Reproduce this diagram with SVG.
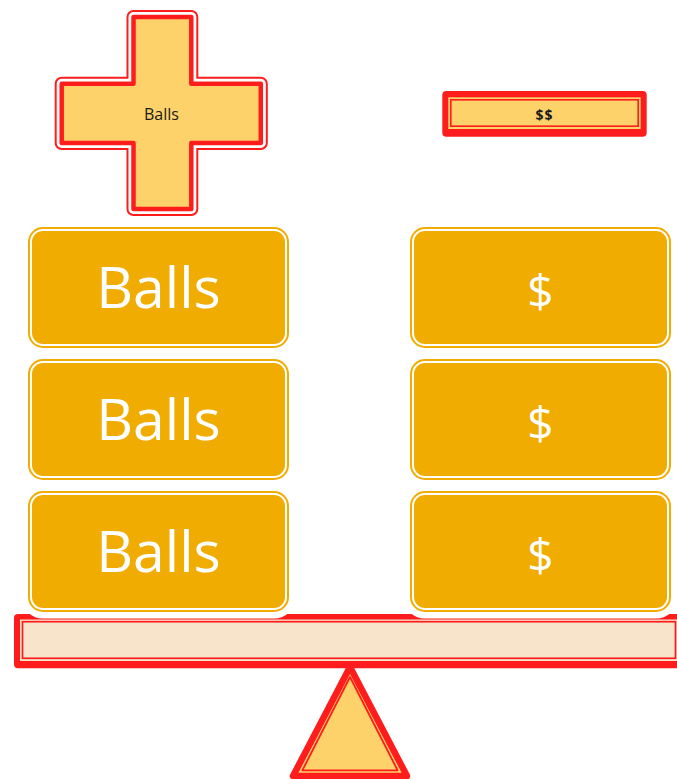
<svg xmlns="http://www.w3.org/2000/svg" width="677" height="779" viewBox="0 0 677 779">
<style>
.big{font-family:"Open Sans","Noto Sans","Liberation Sans",sans-serif;fill:#fff;text-anchor:middle}
.halo{fill:none;stroke:#fff;stroke-width:13}
.bx{fill:#F0AC00}
.bxin{fill:none;stroke:#fff;stroke-width:2}
.red{fill:#FF1C1C}
</style>
<defs>
<path id="plus" d="M133.5,17 H191.3 V83.8 H260.8 V143 H191.3 V209 H133.5 V143 H61.7 V83.8 H133.5 Z"/>
<g id="box">
<rect class="halo" x="0" y="0" width="261" height="121" rx="15"/>
<rect class="bx" x="0" y="0" width="261" height="121" rx="15"/>
<rect class="bxin" x="3" y="3" width="255" height="115" rx="12"/>
</g>
</defs>
<g id="node-plus">
<use href="#plus" fill="none" stroke="#FF1C1C" stroke-width="14" stroke-linejoin="round"/>
<use href="#plus" fill="none" stroke="#fff" stroke-width="10" stroke-linejoin="round"/>
<use href="#plus" fill="#FDD26B" stroke="#FF1C1C" stroke-width="4.5" stroke-linejoin="round"/>
<text x="161.5" y="120" font-family="'Open Sans','Noto Sans',sans-serif" font-size="16" fill="#1a1a1a" text-anchor="middle">Balls</text>
</g>
<g id="node-bar">
<rect class="red" x="442.3" y="91" width="204.4" height="45.7" rx="4"/>
<rect x="448.3" y="97.3" width="192.4" height="31.7" fill="#FDD26B"/>
<rect x="450.8" y="99.8" width="187.4" height="26.4" fill="#FDD26B" stroke="#FF1C1C" stroke-width="1.6"/>
<text x="544.5" y="120" font-family="'Open Sans','Noto Sans',sans-serif" font-size="14" font-weight="bold" fill="#1a1a1a" text-anchor="middle" letter-spacing="1">$$</text>
</g>
<g id="node-beam">
<rect class="red" x="14" y="614" width="670" height="54.3" rx="4"/>
<rect x="20" y="619.5" width="658" height="41.5" fill="#F8E3CB"/>
<rect x="22.5" y="621.7" width="653" height="36.6" fill="#F8E3CB" stroke="#FF1C1C" stroke-width="1.7"/>
</g>
<g id="node-fulcrum">
<polygon points="350,667 293,776 407,776" fill="#FDD26B" stroke="#FF1C1C" stroke-width="6.5" stroke-linejoin="round"/>
<polygon points="350,677 302.4,770.3 397.6,770.3" fill="#FDD26B" stroke="#FF1C1C" stroke-width="1.8" stroke-linejoin="round"/>
</g>
<g id="node-balls-1"><use href="#box" x="28" y="227"/><text class="big" x="158.5" y="308" font-size="57">Balls</text></g>
<g id="node-balls-2"><use href="#box" x="28" y="359"/><text class="big" x="158.5" y="440" font-size="57">Balls</text></g>
<g id="node-balls-3"><use href="#box" x="28" y="491"/><text class="big" x="158.5" y="572" font-size="57">Balls</text></g>
<g id="node-dollar-1"><use href="#box" x="410" y="227"/><text class="big" x="540.5" y="308" font-size="46">$</text></g>
<g id="node-dollar-2"><use href="#box" x="410" y="359"/><text class="big" x="540.5" y="440" font-size="46">$</text></g>
<g id="node-dollar-3"><use href="#box" x="410" y="491"/><text class="big" x="540.5" y="572" font-size="46">$</text></g>
<g id="connectors"/>
</svg>
